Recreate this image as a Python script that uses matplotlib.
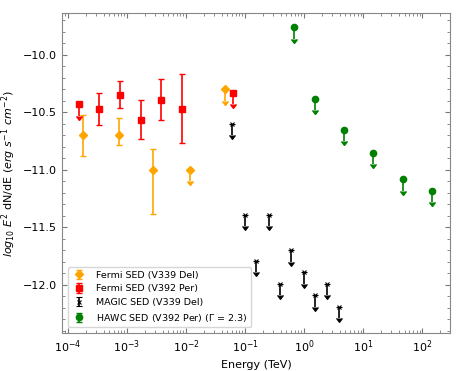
import numpy as np
import matplotlib
matplotlib.use("Agg")
import matplotlib.pyplot as plt
from matplotlib.ticker import MultipleLocator, FixedLocator, LogFormatterSciNotation, NullFormatter

# Fermi SED (V339 Del)
fd_e = [1.8e-4, 7.3e-4, 2.8e-3, 1.15e-2, 0.046]
fd_y = [-10.70, -10.70, -11.00, -11.00, -10.30]
fd_lo = [0.18, 0.08, 0.38, 0.10, 0.10]
fd_hi = [0.18, 0.15, 0.18, 0.0, 0.0]
fd_ul = [False, False, False, True, True]

# Fermi SED (V392 Per)
fp_e = [1.55e-4, 3.4e-4, 7.6e-4, 1.7e-3, 3.8e-3, 8.5e-3, 0.062]
fp_y = [-10.43, -10.47, -10.35, -10.57, -10.39, -10.47, -10.33]
fp_lo = [0.10, 0.14, 0.11, 0.16, 0.18, 0.30, 0.10]
fp_hi = [0.0, 0.14, 0.12, 0.18, 0.18, 0.30, 0.0]
fp_ul = [True, False, False, False, False, False, True]

# MAGIC SED (V339 Del) upper limits
mg_e = [0.061, 0.10, 0.155, 0.25, 0.39, 0.60, 1.0, 1.55, 2.45, 3.9]
mg_y = [-10.60, -11.39, -11.79, -11.39, -11.99, -11.70, -11.89, -12.09, -11.99, -12.19]

# HAWC SED (V392 Per) upper limits
hw_e = [0.68, 1.5, 4.8, 14.8, 47, 148]
hw_y = [-9.76, -10.38, -10.65, -10.85, -11.08, -11.18]

x_ticks = [1e-4, 1e-3, 1e-2, 1e-1, 1e0, 1e1, 1e2]

ul_len = 0.1

fig = plt.figure(figsize=(4.63, 3.71), dpi=100)
ax = fig.add_axes([0.134, 0.102, 0.838, 0.863])

ax.errorbar(fd_e, fd_y, yerr=[np.where(fd_ul, ul_len, fd_lo), fd_hi], uplims=fd_ul,
            fmt='D', color='orange', ms=4, capsize=2, elinewidth=1.2,
            label='Fermi SED (V339 Del)')
ax.errorbar(fp_e, fp_y, yerr=[np.where(fp_ul, ul_len, fp_lo), fp_hi], uplims=fp_ul,
            fmt='s', color='red', ms=4.5, capsize=2, elinewidth=1.2,
            label='Fermi SED (V392 Per)')
ax.errorbar(mg_e, mg_y, yerr=[[ul_len] * len(mg_e), [0] * len(mg_e)],
            uplims=[True] * len(mg_e),
            fmt='x', color='black', ms=3.5, mew=0.8, capsize=2, elinewidth=1.2,
            label='MAGIC SED (V339 Del)')
ax.errorbar(hw_e, hw_y, yerr=[[ul_len] * len(hw_e), [0] * len(hw_e)],
            uplims=[True] * len(hw_e),
            fmt='o', color='green', ms=4.5, capsize=2, elinewidth=1.2,
            label='HAWC SED (V392 Per) ($\\Gamma$ = 2.3)')

ax.set_xscale('log')
ax.set_xlim(10**-4.1, 10**2.47)
ax.xaxis.set_major_locator(FixedLocator(x_ticks))
ax.xaxis.set_major_formatter(LogFormatterSciNotation())
minor = [m * d for d in [1e-5, 1e-4, 1e-3, 1e-2, 1e-1, 1e0, 1e1, 1e2] for m in range(2, 10)]
minor = [v for v in minor if 10**-4.1 <= v <= 10**2.47]
ax.xaxis.set_minor_locator(FixedLocator(minor))
ax.xaxis.set_minor_formatter(NullFormatter())
ax.set_ylim(-12.42, -9.635)
ax.yaxis.set_major_locator(MultipleLocator(0.5))
ax.yaxis.set_minor_locator(MultipleLocator(0.1))

ax.tick_params(which='both', direction='in', top=True, right=True, colors='#777777',
               labelcolor='black', labelsize=8)
ax.tick_params(which='major', length=3.5, width=0.8)
ax.tick_params(which='minor', length=2, width=0.6)
for s in ax.spines.values():
    s.set_color('#888888')

ax.set_xlabel('Energy (TeV)', fontsize=8)
ax.set_ylabel('$log_{10}\\ E^2$ dN/dE ($erg\\ s^{-1}\\ cm^{-2}$)', fontsize=8)

ax.legend(loc='lower left', fontsize=6.8, handlelength=1.6, handletextpad=1.0,
          framealpha=0.8, borderaxespad=0.6)

fig.savefig('out.png', dpi=100)
